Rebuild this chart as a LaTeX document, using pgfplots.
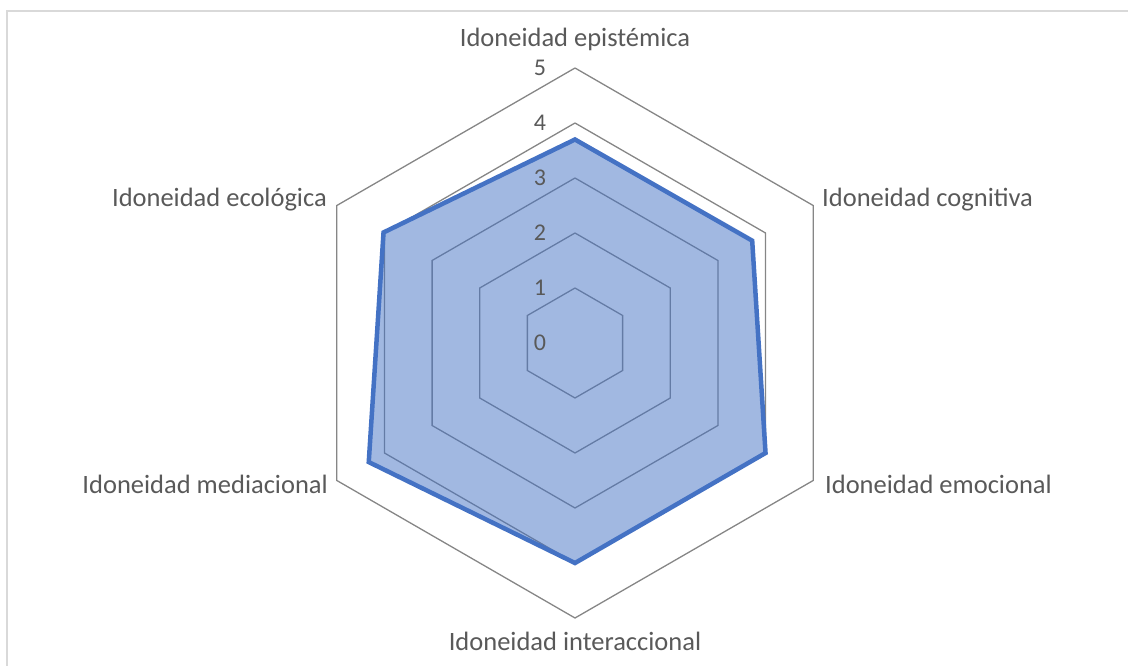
\documentclass[border=0pt]{standalone}
\usepackage{fontspec}
\setmainfont{Carlito}
\usepackage{pgfplots}
\pgfplotsset{compat=1.18}
\definecolor{serie}{HTML}{4472C4}
\definecolor{gridc}{RGB}{134,134,134}
\definecolor{txt}{RGB}{89,89,89}
\definecolor{frame}{RGB}{217,217,217}
\begin{document}
\begin{tikzpicture}
\begin{axis}[at={(0,0)}, anchor=south west, x=55bp, y=55bp,
  xmin=-10.4545, xmax=10.0545, ymin=-5.8727, ymax=6.2364,
  hide axis, clip=false]
% hexagonal grid rings 1..5
\addplot[gridc, line width=1.3bp, data cs=polar, mark=none] coordinates {(90,1) (30,1) (-30,1) (-90,1) (-150,1) (150,1) (90,1)};
\addplot[gridc, line width=1.3bp, data cs=polar, mark=none] coordinates {(90,2) (30,2) (-30,2) (-90,2) (-150,2) (150,2) (90,2)};
\addplot[gridc, line width=1.3bp, data cs=polar, mark=none] coordinates {(90,3) (30,3) (-30,3) (-90,3) (-150,3) (150,3) (90,3)};
\addplot[gridc, line width=1.3bp, data cs=polar, mark=none] coordinates {(90,4) (30,4) (-30,4) (-90,4) (-150,4) (150,4) (90,4)};
\addplot[gridc, line width=1.3bp, data cs=polar, mark=none] coordinates {(90,5) (30,5) (-30,5) (-90,5) (-150,5) (150,5) (90,5)};
% data series: epistemica, cognitiva, emocional, interaccional, mediacional, ecologica
\addplot[serie, line width=4.5bp, line join=miter, fill=serie, fill opacity=0.5, data cs=polar, mark=none] coordinates {(90,3.7) (30,3.72) (-30,4.0) (-90,4.0) (-150,4.33) (150,4.02)} -- cycle;
% axis value labels
\foreach \v/\p in {0/-0.09,1/0.91,2/1.91,3/2.91,4/3.91,5/4.91} {
  \edef\tmp{\noexpand\node[txt, inner sep=0pt, font=\noexpand\fontsize{24bp}{28bp}\noexpand\selectfont, anchor=mid] at (axis cs:-0.636,\p) {\v};}
  \tmp
}
% category labels
\begin{scope}[every node/.style={txt, inner sep=0pt, font=\fontsize{26.5bp}{30bp}\selectfont}]
\node[anchor=mid] at (axis cs:0,5.44) {Idoneidad epistémica};
\node[anchor=mid west] at (axis cs:4.491,2.53) {Idoneidad cognitiva};
\node[anchor=mid west] at (axis cs:4.545,-2.69) {Idoneidad emocional};
\node[anchor=mid] at (axis cs:0,-5.55) {Idoneidad interaccional};
\node[anchor=mid east] at (axis cs:-4.491,-2.69) {Idoneidad mediacional};
\node[anchor=mid east] at (axis cs:-4.509,2.53) {Idoneidad ecológica};
\end{scope}
\end{axis}
\draw[frame, line width=1.5bp] (7bp,-20bp) -- (7bp,655bp) -- (1140bp,655bp);
\pgfresetboundingbox
\path (0,0) rectangle (1128bp,666bp);
\end{tikzpicture}
\end{document}
